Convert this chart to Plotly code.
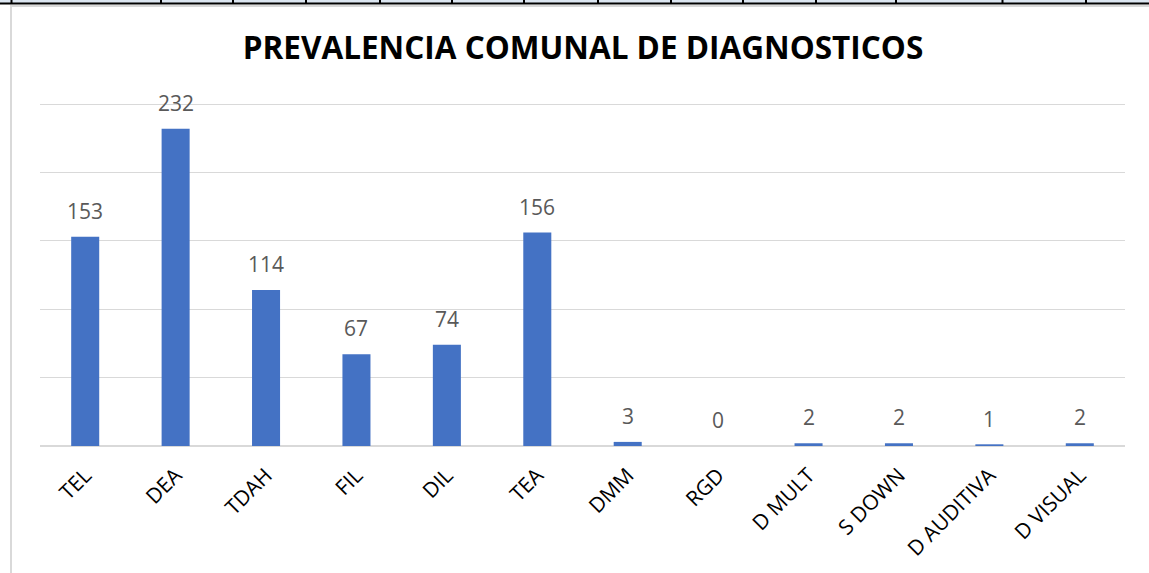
import plotly.graph_objects as go

categories = ['TEL', 'DEA', 'TDAH', 'FIL', 'DIL', 'TEA', 'DMM', 'RGD',
              'D MULT', 'S DOWN', 'D AUDITIVA', 'D VISUAL']
counts = [153, 232, 114, 67, 74, 156, 3, 0, 2, 2, 1, 2]
y_ticks = [0, 50, 100, 150, 200, 250]

W, H = 1149, 573
# spreadsheet cell borders visible above the chart (pixels)
cell_edges = [11.5, 161, 233, 306, 380, 452, 524, 598, 671, 743, 816, 896, 1002.5, 1086]

fig = go.Figure()

fig.add_trace(go.Bar(
    x=categories,
    y=counts,
    marker=dict(color='#4472C4', line=dict(width=0)),
    hoverinfo='x+y',
))

# data labels above the bars
for cat, val in zip(categories, counts):
    fig.add_annotation(
        x=cat, y=val, text=str(val), showarrow=False,
        yanchor='bottom', yshift=10,
        font=dict(family='Open Sans', size=21, color='#595959'),
    )

shapes = [
    # light blue strip + black line of the sheet row above the chart
    dict(type='rect', xref='paper', yref='paper', x0=0, x1=1, y0=1 - 3 / H, y1=1,
         fillcolor='#dce6f1', line=dict(width=0), layer='above'),
    dict(type='line', xref='paper', yref='paper', x0=0, x1=1, y0=1 - 3.5 / H, y1=1 - 3.5 / H,
         line=dict(color='black', width=2), layer='above'),
    dict(type='line', xref='paper', yref='paper', x0=10 / W, x1=1, y0=1 - 6 / H, y1=1 - 6 / H,
         line=dict(color='#d9d9d9', width=2), layer='above'),
    # chart area left border
    dict(type='line', xref='paper', yref='paper', x0=11 / W, x1=11 / W, y0=0, y1=1 - 5 / H,
         line=dict(color='#d9d9d9', width=2), layer='above'),
]
for xe in cell_edges:
    shapes.append(dict(type='line', xref='paper', yref='paper', x0=xe / W, x1=xe / W,
                       y0=1 - 4 / H, y1=1, line=dict(color='black', width=2), layer='above'))

fig.update_layout(
    width=W, height=H,
    margin=dict(l=0, r=0, t=0, b=0),
    paper_bgcolor='white',
    plot_bgcolor='white',
    showlegend=False,
    bargap=0.69,
    title=dict(
        text='PREVALENCIA COMUNAL DE DIAGNOSTICOS',
        x=583 / W, xanchor='center',
        y=1 - 48 / H, yanchor='middle',
        font=dict(family='Open Sans', size=31.5, color='black', weight='bold'),
    ),
    xaxis=dict(
        domain=[40 / W, 1125 / W],
        tickangle=-45,
        tickfont=dict(family='Open Sans', size=21, color='black'),
        ticklabelstandoff=12,
        showgrid=False,
        showline=False,
        ticks='',
        automargin=False,
    ),
    yaxis=dict(
        domain=[1 - 446 / H, 1 - 101.3 / H],
        range=[0, 252],
        tickvals=y_ticks,
        showticklabels=False,
        showgrid=True,
        gridcolor='#d9d9d9',
        gridwidth=1,
        zeroline=True,
        zerolinecolor='#d9d9d9',
        zerolinewidth=2,
        automargin=False,
    ),
    shapes=shapes,
)

fig.write_html("out.html", config={'displayModeBar': False},
               post_script="document.body.style.margin='0';")
